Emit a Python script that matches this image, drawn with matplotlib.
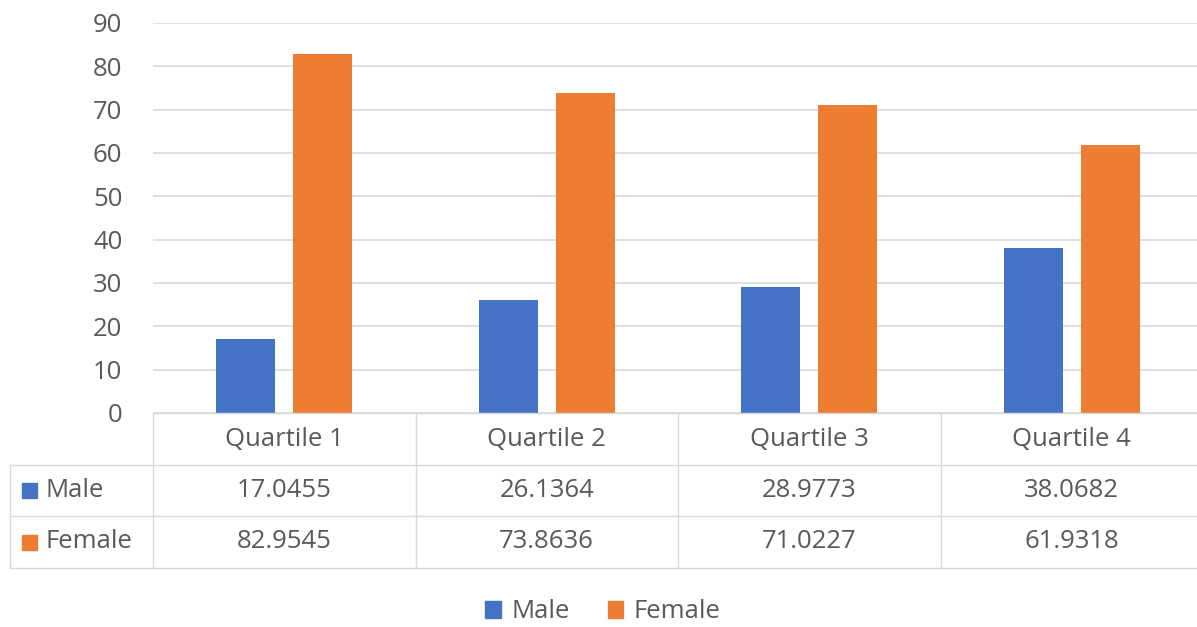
import matplotlib
matplotlib.use("Agg")
import matplotlib.pyplot as plt
from matplotlib.lines import Line2D
from matplotlib.patches import Rectangle
import numpy as np

categories = ["Quartile 1", "Quartile 2", "Quartile 3", "Quartile 4"]
series_names = ["Male", "Female"]
male = [17.0455, 26.1364, 28.9773, 38.0682]
female = [82.9545, 73.8636, 71.0227, 61.9318]
cell_text = ["17.0455", "26.1364", "28.9773", "38.0682"], ["82.9545", "73.8636", "71.0227", "61.9318"]
yticks = [0, 10, 20, 30, 40, 50, 60, 70, 80, 90]

BLUE = "#4472C4"
ORANGE = "#ED7D31"
TEXT = "#595959"
GRID = "#D9D9D9"
FONT = "Open Sans"
FS = 18.5

W, H = 1197, 627
fig = plt.figure(figsize=(W / 100, H / 100), dpi=100)


def fx(px):
    return px / W


def fy(py):
    return 1 - py / H


# chart area runs slightly past the right image edge (cropped screenshot)
ax_l, ax_r, ax_t, ax_b = 153, 1203, 23, 413
ax = fig.add_axes([fx(ax_l), fy(ax_b), fx(ax_r - ax_l), fy(ax_t) - fy(ax_b)])

x = np.arange(len(categories))
bw = 0.225
off = 0.147
ax.bar(x - off, male, bw, color=BLUE, zorder=3)
ax.bar(x + off, female, bw, color=ORANGE, zorder=3)
ax.set_xlim(-0.5, len(categories) - 0.5)
ax.set_ylim(0, 90)
ax.set_yticks(yticks)
ax.set_yticklabels([str(t) for t in yticks], fontsize=FS, color=TEXT, family=FONT)
ax.set_xticks([])
ax.grid(axis="y", color=GRID, linewidth=1.2, zorder=0)
for s in ax.spines.values():
    s.set_visible(False)
ax.tick_params(axis="y", length=0, pad=22)

# data table drawn below the axes
rows = [413, 465, 516, 568]
col_edges = [ax_l + i * (ax_r - ax_l) / len(categories) for i in range(len(categories) + 1)]
left_edge = 10
lw = 1.0
fig.add_artist(Line2D([fx(ax_l), fx(ax_r)], [fy(rows[0])] * 2, color=GRID, lw=lw))
for r in rows[1:]:
    fig.add_artist(Line2D([fx(left_edge), fx(ax_r)], [fy(r)] * 2, color=GRID, lw=lw))
for c in col_edges:
    fig.add_artist(Line2D([fx(c)] * 2, [fy(rows[0]), fy(rows[-1])], color=GRID, lw=lw))
fig.add_artist(Line2D([fx(left_edge)] * 2, [fy(rows[1]), fy(rows[-1])], color=GRID, lw=lw))

for i, cat in enumerate(categories):
    cx = (col_edges[i] + col_edges[i + 1]) / 2
    fig.text(fx(cx), fy((rows[0] + rows[1]) / 2), cat, ha="center", va="center",
             fontsize=FS, color=TEXT, family=FONT)
    for j in range(2):
        fig.text(fx(cx), fy((rows[j + 1] + rows[j + 2]) / 2), cell_text[j][i],
                 ha="center", va="center", fontsize=FS, color=TEXT, family=FONT)

for j, (name, col) in enumerate(zip(series_names, [BLUE, ORANGE])):
    yc = (rows[j + 1] + rows[j + 2]) / 2
    fig.add_artist(Rectangle((fx(22), fy(yc + 7.5)), fx(15), fy(yc - 7.5) - fy(yc + 7.5), color=col))
    fig.text(fx(45), fy(yc), name, ha="left", va="center", fontsize=FS, color=TEXT, family=FONT)

# legend
handles = [Rectangle((0, 0), 1, 1, color=BLUE), Rectangle((0, 0), 1, 1, color=ORANGE)]
fig.legend(handles, series_names, loc="center", bbox_to_anchor=(fx(603), fy(612)), ncol=2,
           frameon=False, prop={"family": FONT, "size": FS}, labelcolor=TEXT,
           handlelength=0.6, handleheight=0.6, handletextpad=0.4, columnspacing=1.5)

fig.savefig("out.png", dpi=100)
